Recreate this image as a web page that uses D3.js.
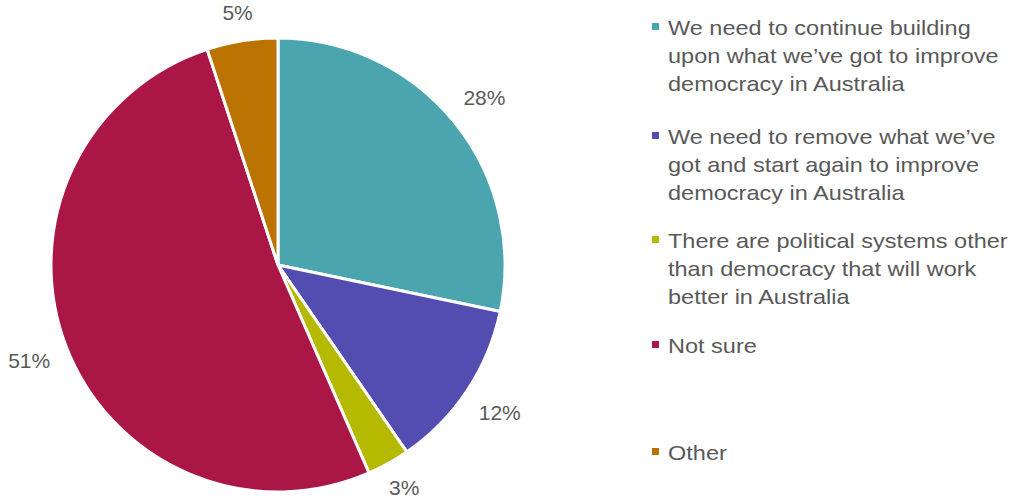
<!DOCTYPE html>
<html>
<head>
<meta charset="utf-8">
<script src="https://cdn.jsdelivr.net/npm/d3@7"></script>
<style>
  body { margin: 0; background: #fff; }
  text { font-family: "Liberation Sans", Arial, sans-serif; fill: #595959; }
</style>
</head>
<body>
<svg id="chart" width="1014" height="500"></svg>
<script>
// categories, values, colours
var categories = [
  ["We need to continue building", "upon what we\u2019ve got to improve", "democracy in Australia"],
  ["We need to remove what we\u2019ve", "got and start again to improve", "democracy in Australia"],
  ["There are political systems other", "than democracy that will work", "better in Australia"],
  ["Not sure"],
  ["Other"]
];
var values = [28, 12, 3, 51, 5];
var colors = ["#4BA5AE", "#534CB1", "#B5BA01", "#AA1746", "#BA7301"];

var svg = d3.select("#chart");
var cx = 278, cy = 265, R = 227;

var pie = d3.pie().sort(null).value(function(d){ return d; });
var arcs = pie(values);
var arc = d3.arc().innerRadius(0).outerRadius(R);

var g = svg.append("g").attr("transform", "translate(" + cx + "," + cy + ")");

g.selectAll("path")
  .data(arcs)
  .enter()
  .append("path")
  .attr("d", arc)
  .attr("fill", function(d,i){ return colors[i]; })
  .attr("stroke", "#fff")
  .attr("stroke-width", 3)
  .attr("stroke-linejoin", "round");

// outside-end labels: push the text box out so it sits a fixed gap beyond the rim
var gap = 16;
g.selectAll("text.lbl")
  .data(arcs)
  .enter()
  .append("text")
  .attr("class", "lbl")
  .attr("font-size", "21px")
  .attr("text-anchor", "middle")
  .attr("dominant-baseline", "central")
  .text(function(d){ return d.data + "%"; })
  .each(function(d){
    var a = (d.startAngle + d.endAngle) / 2;
    var s = Math.sin(a), c = -Math.cos(a);
    var hw = this.getComputedTextLength() / 2, hh = 10.5;
    var r = R + gap + Math.abs(s) * hw + Math.abs(c) * hh;
    // keep the label inside the picture
    var y = Math.min(c * r, 500 - cy - 13);
    d3.select(this).attr("x", s * r).attr("y", y);
  });

// legend (text in the reference is a bit wider than plain Arial, so stretch it)
var legendBase = [35, 144, 248, 353, 460];
var lg = svg.append("g");
categories.forEach(function(lines, i){
  lg.append("rect")
    .attr("x", 652).attr("y", legendBase[i] - 12)
    .attr("width", 7).attr("height", 7)
    .attr("fill", colors[i]);
  var t = lg.append("text")
    .attr("transform", "translate(668," + legendBase[i] + ") scale(1.12,1)")
    .attr("font-size", "21px");
  lines.forEach(function(l, j){
    t.append("tspan").attr("x", 0).attr("dy", j == 0 ? 0 : 28).text(l);
  });
});
</script>
</body>
</html>
